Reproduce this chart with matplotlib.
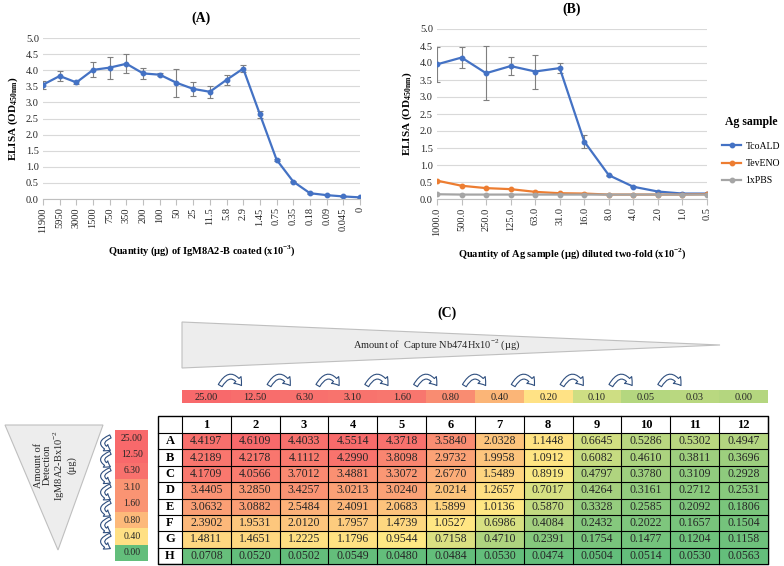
import numpy as np
import matplotlib
matplotlib.use("Agg")
import matplotlib.pyplot as plt
from matplotlib.patches import Rectangle, Polygon, FancyArrowPatch
from matplotlib.colors import LinearSegmentedColormap, TwoSlopeNorm

plt.rcParams['font.family'] = ['Liberation Serif', 'DejaVu Serif']
plt.rcParams['mathtext.fontset'] = 'custom'
plt.rcParams['mathtext.rm'] = 'Liberation Serif'
plt.rcParams['mathtext.bf'] = 'Liberation Serif:bold'

# ---- (A) ----
a_labels = ["11900", "5950", "3000", "1500", "750", "350", "200", "100", "50", "25",
            "11.5", "5.8", "2.9", "1.45", "0.75", "0.35", "0.18", "0.09", "0.045", "0"]
a_vals = [3.55, 3.82, 3.62, 4.01, 4.08, 4.20, 3.90, 3.86, 3.61, 3.42,
          3.33, 3.70, 4.05, 2.63, 1.22, 0.54, 0.18, 0.12, 0.08, 0.05]
a_err = [0.12, 0.15, 0.06, 0.23, 0.34, 0.29, 0.18, 0.05, 0.44, 0.22,
         0.18, 0.15, 0.12, 0.10, 0.03, 0.02, 0.01, 0.01, 0.01, 0.01]

# ---- (B) ----
b_labels = ["1000.0", "500.0", "250.0", "125.0", "63.0", "31.0",
            "16.0", "8.0", "4.0", "2.0", "1.0", "0.5"]
tco = [3.96, 4.16, 3.70, 3.91, 3.75, 3.85, 1.69, 0.70, 0.36, 0.22, 0.16, 0.16]
tco_err = [0.52, 0.30, 0.79, 0.27, 0.50, 0.14, 0.20, 0.02, 0.02, 0.01, 0.01, 0.01]
tev = [0.54, 0.39, 0.32, 0.29, 0.21, 0.17, 0.16, 0.13, 0.13, 0.13, 0.13, 0.14]
pbs = [0.14, 0.13, 0.13, 0.13, 0.13, 0.13, 0.13, 0.13, 0.13, 0.13, 0.13, 0.13]

# ---- (C) ----
capture = ["25.00", "12.50", "6.30", "3.10", "1.60", "0.80",
           "0.40", "0.20", "0.10", "0.05", "0.03", "0.00"]
detection = ["25.00", "12.50", "6.30", "3.10", "1.60", "0.80", "0.40", "0.00"]
rows = ["A", "B", "C", "D", "E", "F", "G", "H"]
elisa = [
    [4.4197, 4.6109, 4.4033, 4.5514, 4.3718, 3.5840, 2.0328, 1.1448, 0.6645, 0.5286, 0.5302, 0.4947],
    [4.2189, 4.2178, 4.1112, 4.2990, 3.8098, 2.9732, 1.9958, 1.0912, 0.6082, 0.4610, 0.3811, 0.3696],
    [4.1709, 4.0566, 3.7012, 3.4881, 3.3072, 2.6770, 1.5489, 0.8919, 0.4797, 0.3780, 0.3109, 0.2928],
    [3.4405, 3.2850, 3.4257, 3.0213, 3.0240, 2.0214, 1.2657, 0.7017, 0.4264, 0.3161, 0.2712, 0.2531],
    [3.0632, 3.0882, 2.5484, 2.4091, 2.0683, 1.5899, 1.0136, 0.5870, 0.3328, 0.2585, 0.2092, 0.1806],
    [2.3902, 1.9531, 2.0120, 1.7957, 1.4739, 1.0527, 0.6986, 0.4084, 0.2432, 0.2022, 0.1657, 0.1504],
    [1.4811, 1.4651, 1.2225, 1.1796, 0.9544, 0.7158, 0.4710, 0.2391, 0.1754, 0.1477, 0.1204, 0.1158],
    [0.0708, 0.0520, 0.0502, 0.0549, 0.0480, 0.0484, 0.0530, 0.0474, 0.0504, 0.0514, 0.0530, 0.0563],
]
capture_colors = ["#F8696B", "#F86D6C", "#F8706D", "#F8736D", "#F8766E", "#F98C71",
                  "#FBB577", "#FFE285", "#CEDE83", "#B4D77F", "#B9D880", "#B4D67F"]
detection_colors = ["#F8696B", "#F8696B", "#F8716D", "#FA9473", "#FA9473",
                    "#FDB97A", "#FFE084", "#63BE7B"]

W, H = 784, 566
fig = plt.figure(figsize=(W / 100, H / 100), dpi=100)


def box(l, t, r, b):
    return [l / W, 1 - b / H, (r - l) / W, (b - t) / H]


TXT = "#262626"
YLAB = "ELISA (OD$_{\\mathbf{450nm}}$)"


def excel_style(ax, labels):
    ax.set_ylim(0, 5)
    ax.set_yticks(np.arange(0, 5.01, 0.5))
    ax.set_yticklabels([f"{v:.1f}" for v in np.arange(0, 5.01, 0.5)], fontsize=7.5, color=TXT)
    ax.set_xlim(0, len(labels) - 1)
    ax.set_xticks(range(len(labels)))
    ax.set_xticklabels(labels, rotation=90, fontsize=7.5, color=TXT)
    ax.grid(axis='y', color='#D9D9D9', lw=0.8)
    ax.set_axisbelow(True)
    for s in ['top', 'right', 'left']:
        ax.spines[s].set_visible(False)
    ax.spines['bottom'].set_color('#BFBFBF')
    ax.tick_params(axis='y', length=0, pad=3)
    ax.tick_params(axis='x', length=4, color='#BFBFBF', pad=2)


# panel A
axa = fig.add_axes(box(43, 38, 360, 199))
xa = np.arange(len(a_vals))
axa.errorbar(xa, a_vals, yerr=a_err, fmt='none', ecolor='#7F7F7F', elinewidth=0.8, capsize=2, capthick=0.8)
axa.plot(xa, a_vals, color='#4472C4', lw=1.6, marker='o', ms=3.2)
excel_style(axa, a_labels)
axa.set_ylabel(YLAB, fontsize=8, fontweight='bold', labelpad=4)
axa.set_xlabel("Quantity (µg) of IgM8A2-B coated (x10$^{\\mathbf{-3}}$)", fontsize=7.5,
               fontweight='bold', labelpad=8)
axa.set_title("(A)", fontsize=10, fontweight='bold', pad=12)

# panel B
axb = fig.add_axes(box(437, 29, 707, 199))
xb = np.arange(len(tco))
axb.errorbar(xb, tco, yerr=tco_err, fmt='none', ecolor='#7F7F7F', elinewidth=0.8, capsize=2, capthick=0.8)
axb.plot(xb, tco, color='#4472C4', lw=1.6, marker='o', ms=3.2, label='TcoALD')
axb.plot(xb, tev, color='#ED7D31', lw=1.6, marker='o', ms=3.2, label='TevENO')
axb.plot(xb, pbs, color='#A5A5A5', lw=1.6, marker='o', ms=3.2, label='1xPBS')
excel_style(axb, b_labels)
axb.set_ylabel(YLAB, fontsize=8, fontweight='bold', labelpad=4)
axb.set_xlabel("Quantity of Ag sample (µg) diluted two-fold (x10$^{\\mathbf{-2}}$)", fontsize=7.5,
               fontweight='bold', labelpad=8)
axb.set_title("(B)", fontsize=10, fontweight='bold', pad=12)
leg = axb.legend(loc='upper left', bbox_to_anchor=(722 / W, 1 - 116 / H), bbox_transform=fig.transFigure,
                 frameon=False, fontsize=7, title="Ag sample", handlelength=2.0,
                 labelspacing=0.85, handletextpad=0.4, borderpad=0, borderaxespad=0)
leg.get_title().set_fontweight('bold')
leg.get_title().set_fontsize(8.5)
leg._legend_box.sep = 10

# panel C, drawn in pixel coordinates
axc = fig.add_axes([0, 0, 1, 1])
axc.set_xlim(0, W)
axc.set_ylim(H, 0)
axc.axis('off')

axc.text(447, 313, "(C)", ha='center', va='center', fontsize=10, fontweight='bold')

# capture wedge
axc.add_patch(Polygon([(182, 322), (182, 368), (720, 345)], closed=True,
                      facecolor='#EDEDED', edgecolor='#BFBFBF', lw=0.8))
axc.text(437, 345, "Amount of  Capture Nb474Hx10$^{-2}$ (µg)", ha='center', va='center',
         fontsize=7.5, color=TXT)

# detection triangle
axc.add_patch(Polygon([(5, 425), (103, 425), (58, 550)], closed=True,
                      facecolor='#EDEDED', edgecolor='#BFBFBF', lw=0.8))
axc.text(55, 465, "Amount of\nDetection\nIgM8A2-Bx10$^{-2}$\n(µg)", ha='center', va='center',
         rotation=90, fontsize=7.5, color=TXT, multialignment='center', linespacing=1.0)

# table geometry
tl, lab_w, tr = 158, 24, 768
cw = (tr - tl - lab_w) / len(capture)
tt, hh, tb = 416, 17, 564
rh = (tb - tt - hh) / len(rows)
x0 = tl + lab_w

# capture bar
for j, (lab, c) in enumerate(zip(capture, capture_colors)):
    axc.add_patch(Rectangle((x0 + j * cw, 390), cw, 13, facecolor=c, edgecolor='none'))
    axc.text(x0 + (j + 0.5) * cw, 397, lab, ha='center', va='center', fontsize=7.5, color=TXT)
for j in range(1, 11):
    b = x0 + j * cw
    axc.add_patch(FancyArrowPatch((b - 12, 388), (b + 12, 388), connectionstyle="arc3,rad=-0.95",
                                  arrowstyle="simple,head_length=0.55,head_width=0.8,tail_width=0.35",
                                  mutation_scale=9, facecolor='white', edgecolor='#2F4F7F', lw=0.8))

# detection bar
dt, dh = 430, (561 - 430) / len(detection)
for i, (lab, c) in enumerate(zip(detection, detection_colors)):
    axc.add_patch(Rectangle((115, dt + i * dh), 33, dh, facecolor=c, edgecolor='none'))
    axc.text(132, dt + (i + 0.5) * dh, lab, ha='center', va='center', fontsize=7, color=TXT)
for i in range(1, 8):
    b = dt + i * dh - 3
    axc.add_patch(FancyArrowPatch((113, b - 8), (113, b + 8), connectionstyle="arc3,rad=1.3",
                                  arrowstyle="simple,head_length=0.5,head_width=0.7,tail_width=0.3",
                                  mutation_scale=8, facecolor='white', edgecolor='#2F4F7F', lw=0.8))

# heat-map cells, Excel 3-colour scale (min green, median yellow, max red)
vals = np.array(elisa)
cmap = LinearSegmentedColormap.from_list("excel", ["#63BE7B", "#FFEB84", "#F8696B"])
norm = TwoSlopeNorm(vmin=vals.min(), vcenter=np.median(vals), vmax=vals.max())

axc.add_patch(Rectangle((tl, tt), tr - tl, tb - tt, facecolor='white', edgecolor='black', lw=1))
for j in range(len(capture)):
    axc.text(x0 + (j + 0.5) * cw, tt + hh / 2, str(j + 1), ha='center', va='center',
             fontsize=9, fontweight='bold', color='black')
for i, r in enumerate(rows):
    y = tt + hh + i * rh
    axc.text(tl + lab_w / 2, y + rh / 2, r, ha='center', va='center', fontsize=9,
             fontweight='bold', color='black')
    for j in range(len(capture)):
        v = vals[i, j]
        axc.add_patch(Rectangle((x0 + j * cw, y), cw, rh, facecolor=cmap(norm(v)),
                                edgecolor='none'))
        axc.text(x0 + (j + 0.5) * cw, y + rh / 2, f"{v:.4f}", ha='center', va='center',
                 fontsize=8.5, color=TXT)
# grid lines
for j in range(len(capture) + 1):
    axc.plot([x0 + j * cw] * 2, [tt, tb], color='black', lw=0.8)
for i in range(len(rows) + 1):
    axc.plot([tl, tr], [tt + hh + i * rh] * 2, color='black', lw=0.8)

fig.savefig("out.png", dpi=100)
